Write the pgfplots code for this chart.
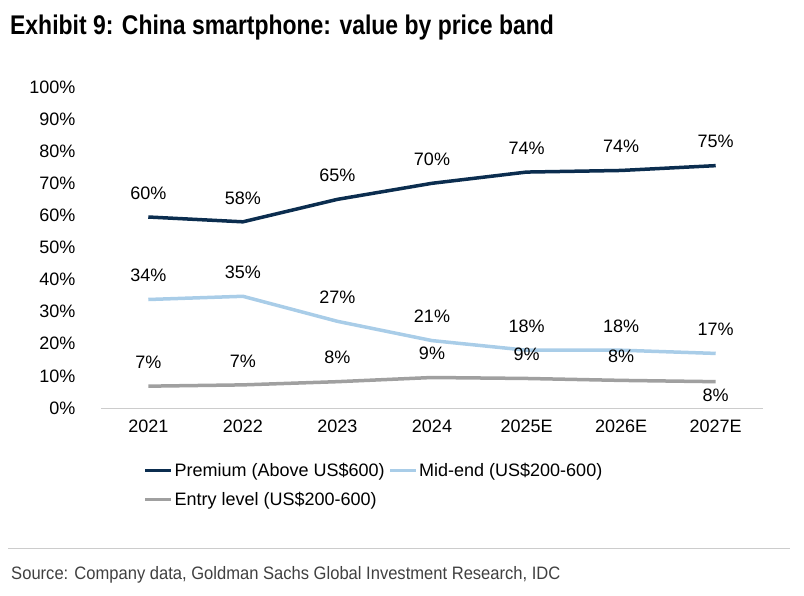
\documentclass[border=0pt]{standalone}
\usepackage{pgfplots}
\pgfplotsset{compat=1.18}
\usepackage{fontspec}
\setmainfont{Liberation Sans}
\definecolor{navy}{HTML}{0B2D4F}
\definecolor{lblue}{HTML}{A9CDE8}
\definecolor{lgray}{HTML}{A0A0A0}
\begin{document}
\begin{tikzpicture}[x=1pt,y=1pt]
\path (0,0) rectangle (804,-596);
\node[anchor=west,font=\fontsize{27}{30}\selectfont\bfseries,xscale=0.85,inner sep=0pt] at (10,-28) {Exhibit 9: China smartphone: value by price band};
\begin{axis}[at={(101pt,-408pt)},anchor=south west,scale only axis,width=662pt,height=321pt,
 xmin=-0.5,xmax=6.5,ymin=0,ymax=100,
 xtick={0,...,6},xticklabels={2021,2022,2023,2024,2025E,2026E,2027E},
 ytick={0,10,...,100},yticklabel={\pgfmathprintnumber{\tick}\%},
 /pgf/number format/assume math mode=true,
 axis x line*=bottom, axis y line*=left, y axis line style={draw=none}, x axis line style={draw=gray!40,line width=1pt,-},
 yticklabel style={anchor=east,xshift=-22pt},
 major tick length=0pt, xtick style={draw=none},ytick style={draw=none},
 tick label style={font=\fontsize{18}{21}\selectfont},
 xticklabel style={yshift=-8pt},
 clip=false,
 nodes near coords, point meta=explicit symbolic,
 every node near coord/.append style={font=\fontsize{18}{21}\selectfont,anchor=center,yshift=24pt,text=black},
 legend style={at={(0.06,-0.16)},anchor=north west,draw=none,legend columns=2,font=\fontsize{18}{21}\selectfont,/tikz/every even column/.append style={column sep=2pt},row sep=10pt},
 legend cell align=left,
 legend image code/.code={\draw[#1,line width=3pt] (0,0) -- (0.9cm,0);}
]
\addplot[navy,line width=3.5pt] coordinates {(0,59.5)[60\%] (1,58)[58\%] (2,65)[65\%] (3,70)[70\%] (4,73.5)[74\%] (5,74)[74\%] (6,75.5)[75\%]};
\addlegendentry{Premium (Above US\$600)}
\addplot[lblue,line width=3.5pt] coordinates {(0,33.8)[34\%] (1,34.8)[35\%] (2,27)[27\%] (3,21)[21\%] (4,18)[18\%] (5,18)[18\%] (6,17)[17\%]};
\addlegendentry{Mid-end (US\$200-600)}
\addplot[lgray,line width=3.5pt] coordinates {(0,6.8)[7\%] (1,7.2)[7\%] (2,8.2)[8\%] (3,9.5)[9\%] (4,9.2)[9\%] (5,8.6)[8\%] (6,8.2)[]};
\addlegendentry{Entry level (US\$200-600)}
\addplot[draw=none,every node near coord/.append style={yshift=-38pt}] coordinates {(6,8.2)[8\%]};
\end{axis}
\draw[gray!40,line width=1pt] (8,-548) -- (790,-548);
\node[anchor=west,font=\fontsize{18}{21}\selectfont,text=black!75,xscale=0.92] at (8,-575) {Source: Company data, Goldman Sachs Global Investment Research, IDC};
\end{tikzpicture}
\end{document}
